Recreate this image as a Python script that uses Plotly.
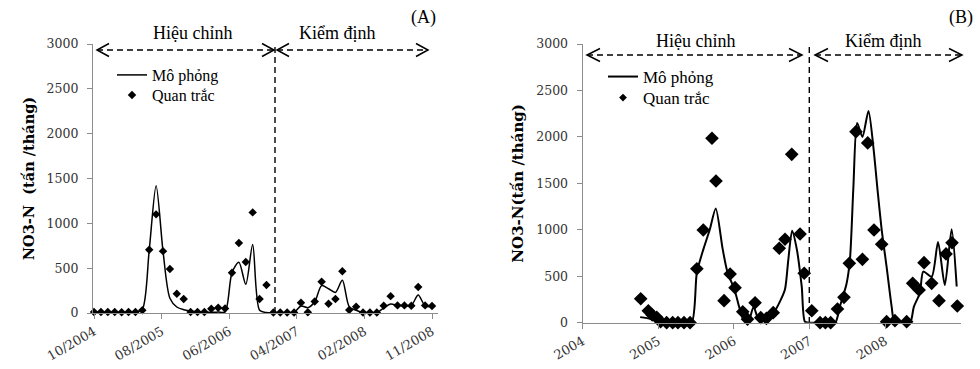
import numpy as np
import plotly.graph_objects as go

W, H = 980, 369

# ---------------- Panel A data (monthly index 10/2004 .. 11/2008) ----------------
idx_A = list(range(50))
obs_A = [12, 12, 12, 10, 8, 10, 12, 30, 706, 1100, 690, 490, 215, 155, 12, 10, 10, 48, 58, 50,
         450, 781, 569, 1122, 155, 312, 5, 5, 5, 5, 115, 8, 128, 349, 104, 155, 465, 33, 71, 5,
         5, 5, 82, 188, 85, 85, 82, 290, 85, 78]
sim_A = [5, 5, 5, 5, 5, 5, 8, 40, 700, 1420, 690, 165, 67, 37, 22, 11, 8, 8, 10, 12,
         450, 565, 320, 765, 30, 5, 3, 3, 3, 5, 78, 60, 125, 305, 270, 230, 365, 70, 30, 5,
         5, 5, 55, 100, 85, 85, 85, 200, 80, 70]
ticklabels_A = ["10/2004", "08/2005", "06/2006", "04/2007", "02/2008", "11/2008"]

# ---------------- Panel B data (decimal years) ----------------
x_obs_B = [2004.767, 2004.868, 2004.92, 2004.979, 2005.03, 2005.11, 2005.19, 2005.26, 2005.34, 2005.42,
           2005.51, 2005.595, 2005.71, 2005.763, 2005.87, 2005.95, 2006.015, 2006.117, 2006.18, 2006.28,
           2006.355, 2006.43, 2006.52, 2006.60, 2006.676, 2006.765, 2006.875, 2006.93, 2007.03, 2007.14,
           2007.21, 2007.28, 2007.37, 2007.456, 2007.527, 2007.615, 2007.70, 2007.77, 2007.853, 2007.955,
           2008.02, 2008.13, 2008.285, 2008.365, 2008.45, 2008.515, 2008.616, 2008.713, 2008.806, 2008.885,
           2008.955]
y_obs_B = [258, 128, 83, 58, 11, 0, 0, 0, 0, 0,
           581, 998, 1985, 1525, 237, 524, 377, 118, 38, 215,
           54, 47, 108, 801, 898, 1812, 955, 532, 129, 0,
           0, 0, 147, 273, 639, 2056, 682, 1935, 998, 844,
           11, 22, 11, 424, 352, 646, 424, 237, 740, 861,
           180]
x_sim_B = [2004.76, 2004.90, 2005.0, 2005.10, 2005.20, 2005.30, 2005.44, 2005.51, 2005.60, 2005.68,
           2005.76, 2005.85, 2005.91, 2006.01, 2006.07, 2006.12, 2006.19, 2006.26, 2006.34, 2006.43,
           2006.52, 2006.61, 2006.676, 2006.72, 2006.77, 2006.83, 2006.897, 2006.94, 2007.0, 2007.1,
           2007.2, 2007.34, 2007.40, 2007.49, 2007.535, 2007.58, 2007.63, 2007.70, 2007.78, 2007.845,
           2007.90, 2007.955, 2008.02, 2008.087, 2008.12, 2008.2, 2008.33, 2008.38, 2008.46, 2008.505,
           2008.616, 2008.70, 2008.79, 2008.88, 2008.947]
y_sim_B = [60, 40, 5, 0, 0, 0, 0, 540, 800, 1000,
           1230, 800, 560, 350, 170, 45, 10, 170, 10, 40,
           100, 230, 360, 680, 990, 800, 390, 10, 0, 0,
           0, 0, 170, 420, 680, 1450, 2150, 2000, 2280, 1890,
           1430, 1000, 600, 170, 20, 0, 0, 170, 320, 550,
           495, 870, 405, 1005, 390]
ticks_B = [2004, 2005, 2006, 2007, 2008]

SERIF = "Liberation Serif"
TICKFONT = dict(family="DejaVu Serif", size=12.5, color="#333333")
XTICKFONT = dict(family="DejaVu Serif", size=13, color="#333333")
AXCOL = "#8c8c8c"


def P(x, y):
    return x / W, 1 - y / H


fig = go.Figure()

# Panel A
fig.add_trace(go.Scatter(x=idx_A, y=sim_A, mode="lines", name="Mô phỏng",
                         line=dict(color="black", width=1.5, shape="spline", smoothing=0.8),
                         xaxis="x", yaxis="y", legend="legend", cliponaxis=False))
fig.add_trace(go.Scatter(x=idx_A, y=obs_A, mode="markers", name="Quan trắc",
                         marker=dict(symbol="diamond", size=6.5, color="black"),
                         xaxis="x", yaxis="y", legend="legend3", cliponaxis=False))
# Panel B
fig.add_trace(go.Scatter(x=x_sim_B, y=y_sim_B, mode="lines", name="Mô phỏng",
                         line=dict(color="black", width=2, shape="spline", smoothing=0.7),
                         xaxis="x2", yaxis="y2", legend="legend2", cliponaxis=False))
fig.add_trace(go.Scatter(x=x_obs_B, y=y_obs_B, mode="markers", name="Quan trắc", showlegend=False,
                         marker=dict(symbol="diamond", size=10.5, color="black"),
                         xaxis="x2", yaxis="y2", cliponaxis=False))
fig.add_trace(go.Scatter(x=[None], y=[None], mode="markers", name="Quan trắc",
                         marker=dict(symbol="diamond", size=6, color="black"),
                         xaxis="x2", yaxis="y2", legend="legend4"))

axis_common = dict(showgrid=False, zeroline=False, showline=True, linecolor=AXCOL, linewidth=1.3,
                   ticks="outside", ticklen=5, tickcolor=AXCOL, tickwidth=1.2,
                   automargin=False)


def leg(x, y, size):
    return dict(x=x / W, y=1 - y / H, xanchor="left", yanchor="top", bgcolor="rgba(0,0,0,0)",
                font=dict(family=SERIF, size=size), tracegroupgap=0, itemwidth=30)


fig.update_layout(
    width=W, height=H, margin=dict(l=0, r=0, t=0, b=0),
    paper_bgcolor="white", plot_bgcolor="white", font=dict(family=SERIF, color="black"),
    xaxis=dict(domain=[93 / W, 438 / W], range=[-0.15, 49.87], anchor="y",
               tickvals=list(np.linspace(0, 49, 6)), ticktext=ticklabels_A, tickangle=-30,
               tickfont=XTICKFONT, **axis_common),
    yaxis=dict(domain=[1 - 313 / H, 1 - 44 / H], range=[0, 3000], dtick=500, anchor="x",
               ticklabelstandoff=6, tickfont=TICKFONT,
               title=dict(text="<b>NO3-N  (tấn /tháng)</b>", font=dict(family="DejaVu Serif", size=14.5),
                          standoff=8),
               **axis_common),
    xaxis2=dict(domain=[582.7 / W, 960.7 / W], range=[2004, 2009], anchor="y2",
                tickvals=ticks_B, tickangle=-30, tickfont=XTICKFONT, **axis_common),
    yaxis2=dict(domain=[1 - 322.7 / H, 1 - 44 / H], range=[0, 3000], dtick=500, anchor="x2",
                ticklabelstandoff=6, tickfont=TICKFONT,
                title=dict(text="<b>NO3-N(tấn /tháng)</b>", font=dict(family="DejaVu Serif", size=15),
                           standoff=8),
                **axis_common),
    legend=leg(112, 58, 16),
    legend3=leg(112, 78, 16),
    legend2=leg(603, 59, 17),
    legend4=leg(603, 80, 17),
    showlegend=True,
)

# ---------- decorations ----------
shapes = []
dash = "6px,4px"


def hline(x0, x1, y):
    a, b = P(x0, y)
    c, d = P(x1, y)
    shapes.append(dict(type="line", xref="paper", yref="paper", x0=a, y0=b, x1=c, y1=d,
                       line=dict(color="black", width=1.4, dash=dash)))


def vline(x, y0, y1):
    a, b = P(x, y0)
    c, d = P(x, y1)
    shapes.append(dict(type="line", xref="paper", yref="paper", x0=a, y0=b, x1=c, y1=d,
                       line=dict(color="black", width=1.4, dash=dash)))


def chevron(tx, ty, direction, w=12, h=6.5):
    s = 1 if direction == "left" else -1
    p1 = P(tx + s * w, ty - h)
    p2 = P(tx, ty)
    p3 = P(tx + s * w, ty + h)
    path = f"M{p1[0]},{p1[1]} L{p2[0]},{p2[1]} L{p3[0]},{p3[1]}"
    shapes.append(dict(type="path", xref="paper", yref="paper", path=path,
                       line=dict(color="black", width=1.5)))


# Panel A
hline(97, 274, 50)
hline(277, 428, 50)
chevron(97, 50, "left")
chevron(274, 50, "right")
chevron(277, 50, "left")
chevron(428, 50, "right")
vline(275, 47, 313)
# Panel B
hline(587, 802, 55)
hline(815, 962, 55)
chevron(587, 55, "left", w=13)
chevron(802, 55, "right", w=13)
chevron(815, 55, "left", w=13)
chevron(962, 55, "right", w=13)
vline(809.3, 47, 322)

fig.update_layout(shapes=shapes)


def label(text, x, y, size=18):
    a, b = P(x, y)
    fig.add_annotation(text=text, x=a, y=b, xref="paper", yref="paper", showarrow=False,
                       xanchor="center", yanchor="middle", font=dict(family=SERIF, size=size, color="black"))


label("(A)", 423, 17)
label("Hiệu chỉnh", 192, 33)
label("Kiểm định", 337, 33)
label("(B)", 961, 17)
label("Hiệu chỉnh", 695, 41)
label("Kiểm định", 883, 41)

fig.write_html("out.html", config={"displayModeBar": False},
               post_script="document.body.style.margin='0px';document.body.style.overflow='hidden';")
